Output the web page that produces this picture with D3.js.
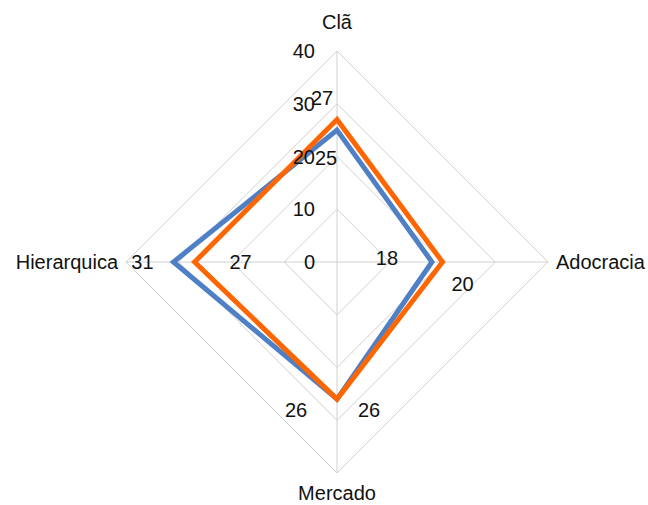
<!DOCTYPE html>
<html>
<head>
<meta charset="utf-8">
<script src="https://cdn.jsdelivr.net/npm/d3@7"></script>
<style>
  html, body { margin: 0; padding: 0; background: #fff; }
  svg { display: block; font-family: "Liberation Sans", Arial, Helvetica, sans-serif; }
</style>
</head>
<body>
<svg id="chart" width="648" height="505"></svg>
<script>
// Culture profile radar: four culture types, two profiles
const categories = ["Clã", "Adocracia", "Mercado", "Hierarquica"];
const seriesBlue = [25, 18, 26, 31];
const seriesOrange = [27, 20, 26, 27];
const tickValues = [0, 10, 20, 30, 40];

const width = 648, height = 505;
const cx = 337, cy = 262, radius = 211;

const svg = d3.select("#chart");

const r = d3.scaleLinear().domain([0, 40]).range([0, radius]);
const angle = d3.scaleBand().domain(categories).range([0, 2 * Math.PI]).align(0).paddingInner(0).paddingOuter(0);

const pt = (cat, v) => {
  const a = angle(cat);
  return [cx + r(v) * Math.sin(a), cy - r(v) * Math.cos(a)];
};

const g = svg.append("g");

// grid rings
const line = d3.line().curve(d3.curveLinearClosed);
tickValues.filter(t => t > 0).forEach(t => {
  g.append("path")
    .attr("d", line(categories.map(c => pt(c, t))))
    .attr("fill", "none")
    .attr("stroke", "#d0d0d0")
    .attr("stroke-width", 1);
});

// spokes
categories.forEach(c => {
  const [x, y] = pt(c, 40);
  g.append("line")
    .attr("x1", cx).attr("y1", cy).attr("x2", x).attr("y2", y)
    .attr("stroke", "#d0d0d0").attr("stroke-width", 1);
});

// series
const series = [
  { name: "blue", values: seriesBlue, color: "#4f7fc4",
    offsets: [[-11, 28], [-45, -4], [-41, 11], [-31, 0]] },
  { name: "orange", values: seriesOrange, color: "#ff6500",
    offsets: [[-15, -22], [20, 22], [32, 11], [46, 0]] }
];

series.forEach(s => {
  g.append("path")
    .attr("d", line(categories.map((c, i) => pt(c, s.values[i]))))
    .attr("fill", "none")
    .attr("stroke", s.color)
    .attr("stroke-width", 5)
    .attr("stroke-linejoin", "miter");
});

// radial tick labels along the top spoke
g.selectAll("text.tick")
  .data(tickValues)
  .join("text")
  .attr("class", "tick")
  .attr("x", cx - 22)
  .attr("y", d => cy - r(d))
  .attr("dy", "0.35em")
  .attr("text-anchor", "end")
  .attr("font-size", 20)
  .attr("fill", "#111")
  .text(d => d);

// value labels
series.forEach(s => {
  categories.forEach((c, i) => {
    const [x, y] = pt(c, s.values[i]);
    g.append("text")
      .attr("x", x + s.offsets[i][0])
      .attr("y", y + s.offsets[i][1])
      .attr("dy", "0.35em")
      .attr("text-anchor", "middle")
      .attr("font-size", 20)
      .attr("fill", "#111")
      .text(s.values[i]);
  });
});

// category labels
const labelPos = {
  "Clã": { dx: 0, dy: -22, anchor: "middle" },
  "Adocracia": { dx: 8, dy: 7, anchor: "start" },
  "Mercado": { dx: 0, dy: 27, anchor: "middle" },
  "Hierarquica": { dx: -8, dy: 7, anchor: "end" }
};
categories.forEach(c => {
  const [x, y] = pt(c, 40);
  const p = labelPos[c];
  g.append("text")
    .attr("x", x + p.dx)
    .attr("y", y + p.dy)
    .attr("text-anchor", p.anchor)
    .attr("font-size", 20)
    .attr("fill", "#111")
    .text(c);
});
</script>
</body>
</html>
